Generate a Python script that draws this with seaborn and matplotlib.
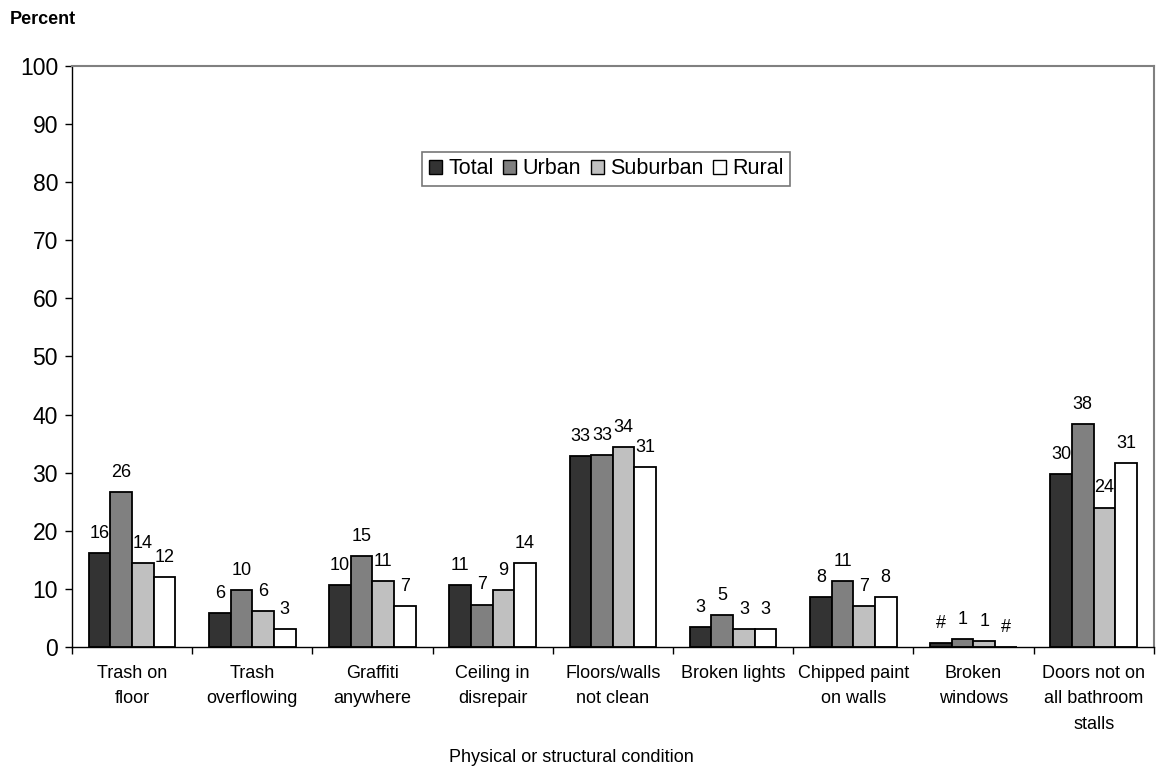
import numpy as np
import pandas as pd
import seaborn as sns
import matplotlib.pyplot as plt
from matplotlib.ticker import FixedLocator

# %% data
conditions = ["Trash on\nfloor", "Trash\noverflowing", "Graffiti\nanywhere",
              "Ceiling in\ndisrepair", "Floors/walls\nnot clean", "Broken lights",
              "Chipped paint\non walls", "Broken\nwindows",
              "Doors not on\nall bathroom\nstalls"]
groups = ["Total", "Urban", "Suburban", "Rural"]

total = [16.2, 5.8, 10.7, 10.7, 32.9, 3.4, 8.6, 0.6, 29.8]
urban = [26.7, 9.8, 15.7, 7.3, 33.1, 5.5, 11.4, 1.3, 38.4]
suburban = [14.5, 6.2, 11.4, 9.8, 34.4, 3.1, 7.1, 1.0, 24.0]
rural = [12.0, 3.1, 7.1, 14.4, 31.0, 3.1, 8.6, 0.0, 31.6]

total_lbl = ["16", "6", "10", "11", "33", "3", "8", "#", "30"]
urban_lbl = ["26", "10", "15", "7", "33", "5", "11", "1", "38"]
suburban_lbl = ["14", "6", "11", "9", "34", "3", "7", "1", "24"]
rural_lbl = ["12", "3", "7", "14", "31", "3", "8", "#", "31"]

colors = ["#333333", "#808080", "#c0c0c0", "#ffffff"]

df = pd.DataFrame({
    "condition": conditions * 4,
    "group": np.repeat(groups, len(conditions)),
    "value": total + urban + suburban + rural,
})

# %% plot
plt.rcParams['font.family'] = ['Liberation Sans', 'DejaVu Sans']
fig = plt.figure(figsize=(11.57, 7.67), dpi=100)
ax = fig.add_axes([0.0622, 0.1565, 0.9350, 0.7575])

sns.barplot(data=df, x="condition", y="value", hue="group", palette=colors,
            width=0.72, gap=0, edgecolor="black", linewidth=1.3,
            saturation=1, ax=ax, errorbar=None)

for cont, lbls in zip(ax.containers, [total_lbl, urban_lbl, suburban_lbl, rural_lbl]):
    ax.bar_label(cont, labels=lbls, padding=8, fontsize=13)

ax.set_ylim(0, 100)
ax.set_xlim(-0.5, len(conditions) - 0.5)
ax.set_yticks(range(0, 101, 10))
ax.tick_params(axis='y', labelsize=16.5, length=5, width=1, pad=5)
ax.tick_params(axis='x', which='major', length=0, labelsize=13, pad=13)
ax.xaxis.set_minor_locator(FixedLocator(np.arange(-0.5, len(conditions), 1.0)))
ax.tick_params(axis='x', which='minor', length=5, width=1)
for lab in ax.get_xticklabels():
    lab.set_verticalalignment('top')
    lab.set_linespacing(1.65)

for side in ["top", "right"]:
    ax.spines[side].set_color("#808080")
    ax.spines[side].set_linewidth(1.5)
for side in ["left", "bottom"]:
    ax.spines[side].set_color("black")
    ax.spines[side].set_linewidth(1)

ax.set_xlabel("")
ax.set_ylabel("")
fig.text(0.0086, 0.975, "Percent", fontsize=13, fontweight='bold', va='center')
fig.text(0.4935, 0.013, "Physical or structural condition", fontsize=13,
         ha='center', va='center')

leg = ax.legend(loc='center', bbox_to_anchor=(0.494, 0.823), ncol=4,
                frameon=True, fancybox=False, edgecolor="#555555",
                fontsize=15.5, handlelength=0.6, handleheight=0.6,
                handletextpad=0.3, columnspacing=0.45, borderpad=0.3)
leg.get_frame().set_linewidth(1.2)
for h in leg.legend_handles:
    h.set_edgecolor("black")
    h.set_linewidth(1.0)

fig.savefig("out.png", dpi=100)
